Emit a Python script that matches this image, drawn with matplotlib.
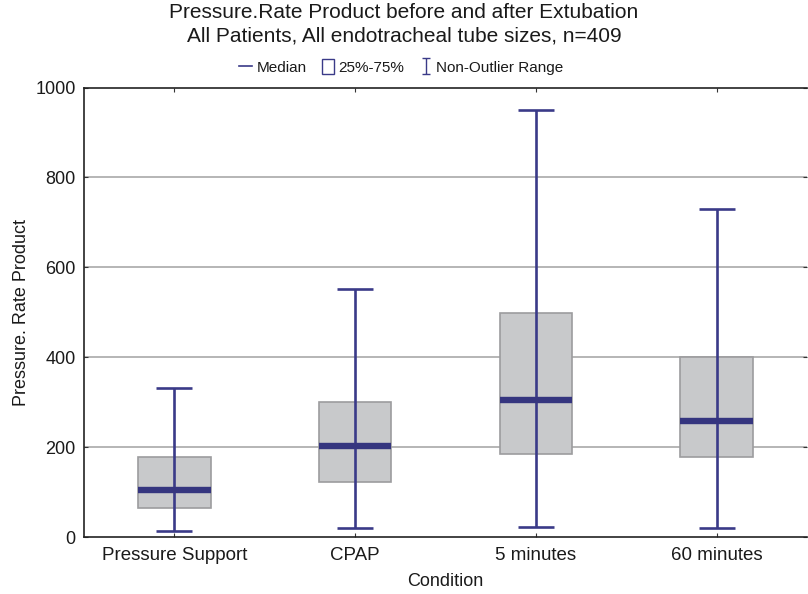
import matplotlib
matplotlib.use("Agg")
import matplotlib.pyplot as plt
from matplotlib.lines import Line2D
from matplotlib.patches import Patch
from matplotlib.path import Path

categories = ["Pressure Support", "CPAP", "5 minutes", "60 minutes"]
whisker_low = [13, 20, 23, 19]
q1 = [65, 123, 184, 179]
median = [105, 202, 304, 258]
q3 = [178, 300, 499, 400]
whisker_high = [331, 552, 950, 730]
yticks = [0, 200, 400, 600, 800, 1000]

plt.rcParams['font.family'] = ['Liberation Sans', 'DejaVu Sans']

navy = '#3a3a88'
med_col = '#35357f'
box_fill = '#c8c9cb'
box_edge = '#9c9c9e'
grid_col = '#b0b0b0'
txt = '#1a1a1a'

fig = plt.figure(figsize=(8.08, 5.94), dpi=100)
ax = fig.add_axes([84/808, 57/594, (807-84)/808, (537-87.5)/594])

x = list(range(len(categories)))
q_h = [b - a for a, b in zip(q1, q3)]
ax.bar(x, q_h, bottom=q1, width=0.4, color=box_fill, edgecolor=box_edge,
       linewidth=1.2, zorder=2)
ax.vlines(x, whisker_low, whisker_high, color=navy, linewidth=1.9, zorder=3)
ax.hlines(whisker_low, [i - 0.1 for i in x], [i + 0.1 for i in x], color=navy, linewidth=1.9, zorder=3)
ax.hlines(whisker_high, [i - 0.1 for i in x], [i + 0.1 for i in x], color=navy, linewidth=1.9, zorder=3)
ax.hlines(median, [i - 0.2 for i in x], [i + 0.2 for i in x], color=med_col, linewidth=4.6, zorder=4)

ax.set_xlim(-0.5, 3.5)
ax.set_ylim(0, 1000)
ax.set_yticks(yticks)
ax.set_xticks(x)
ax.set_xticklabels(categories, fontsize=13.5, color=txt)
ax.tick_params(axis='y', labelsize=13, direction='in', length=3, right=True,
               color='#333333', labelcolor=txt, pad=6)
ax.tick_params(axis='x', direction='in', length=3, top=True, pad=7, color='#333333')
for t in yticks[1:-1]:
    ax.axhline(t, color=grid_col, linewidth=1.3, zorder=1)
for s in ['left', 'bottom', 'top']:
    ax.spines[s].set_color('#222222')
    ax.spines[s].set_linewidth(1.2)
ax.spines['right'].set_visible(False)

ax.set_xlabel("Condition", fontsize=13, labelpad=7, color=txt)
ax.set_ylabel("Pressure. Rate Product", fontsize=13, labelpad=4, color=txt)

fig.text(0.5, 1 - 13/594, "Pressure.Rate Product before and after Extubation",
         ha='center', va='center', fontsize=15, color=txt)
fig.text(0.5, 1 - 36/594, "All Patients, All endotracheal tube sizes, n=409",
         ha='center', va='center', fontsize=15, color=txt)

ivert = [(0, -1), (0, 1), (-0.5, 1), (0.5, 1), (-0.5, -1), (0.5, -1)]
icodes = [Path.MOVETO, Path.LINETO, Path.MOVETO, Path.LINETO, Path.MOVETO, Path.LINETO]
imark = Path(ivert, icodes)
handles = [
    Line2D([], [], color=navy, linewidth=1.2),
    Patch(facecolor='white', edgecolor=navy, linewidth=1.0),
    Line2D([], [], color=navy, linestyle='none', marker=imark, markersize=11,
           markeredgewidth=1.0, markerfacecolor='none'),
]
labels = ["Median", "25%-75%", "Non-Outlier Range"]
leg = fig.legend(handles, labels, loc='center', bbox_to_anchor=(0.497, 1 - 67/594),
                 ncol=3, frameon=False, fontsize=11, handlelength=0.8, handleheight=1.1,
                 handletextpad=0.3, columnspacing=1.0)
for t in leg.get_texts():
    t.set_color(txt)

fig.savefig("out.png", dpi=100)
